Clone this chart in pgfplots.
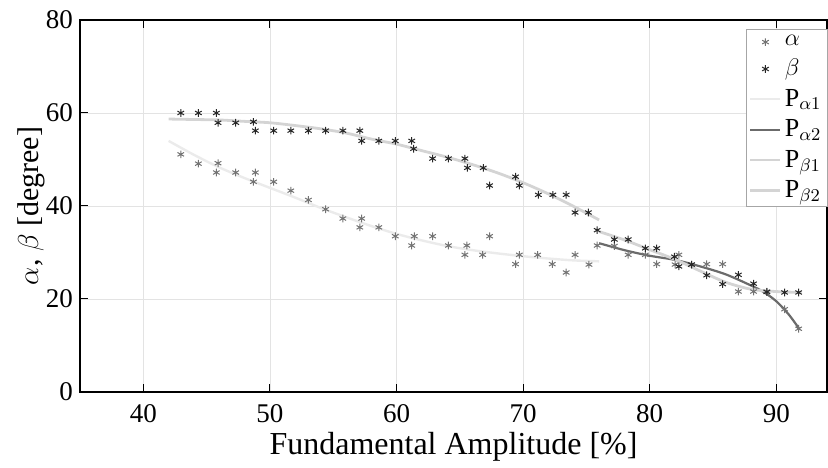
\documentclass[border=0pt]{standalone}
\usepackage{fontspec}
\setmainfont{Liberation Serif}
\usepackage{pgfplots}
\pgfplotsset{compat=1.18}
\definecolor{agray}{gray}{0.45}
\definecolor{bgray}{gray}{0.15}
\definecolor{pa1}{gray}{0.92}
\definecolor{pa2}{gray}{0.42}
\definecolor{pb1}{gray}{0.83}
\definecolor{pb2}{gray}{0.83}
\begin{document}
\begin{tikzpicture}
\begin{axis}[
  name=ax,
  scale only axis,
  width=373.5pt, height=186pt,
  xmin=35, xmax=94, ymin=0, ymax=80,
  xtick={40,50,...,90}, ytick={0,20,...,80},
  grid=major,
  major grid style={gray!22, line width=0.4pt},
  tick align=inside,
  major tick length=4pt,
  tick style={black, line width=0.5pt},
  axis line style={black, line width=0.6pt},
  tick label style={font=\fontsize{13.5}{15}\selectfont},
  /pgf/number format/assume math mode=true,
  xticklabel style={yshift=-2.5pt},
  xlabel={Fundamental Amplitude [\%]},
  ylabel={$\alpha$, $\beta$ [degree]},
  every axis x label/.style={at={(axis description cs:0.5,-0.148)},anchor=center,font=\fontsize{16}{18}\selectfont},
  every axis y label/.style={at={(axis description cs:-0.0656,0.5)},rotate=90,anchor=center,font=\fontsize{15}{17}\selectfont},
  legend style={at={(axis description cs:1.0013,0.976)}, anchor=north east,
    draw=gray!70, line width=0.5pt, font=\fontsize{13}{14}\selectfont,
    row sep=2.2pt, inner sep=1.5pt, fill=white,
    nodes={inner sep=1.5pt}},
  legend cell align=left,
  legend image code/.code={\draw[mark repeat=2,mark phase=2,#1] plot coordinates {(0pt,0pt) (7.5pt,0pt) (15pt,0pt)};},
]
\addplot[only marks, mark=asterisk, mark size=1.9pt, color=agray, mark options={line width=0.5pt}] coordinates {
(42.96,51.1)(44.35,49.1)(45.77,47.2)(45.9,49.2)(47.3,47.2)(48.7,45.2)(48.85,47.2)
(50.3,45.2)(51.65,43.3)(53.04,41.3)(54.4,39.3)(55.76,37.3)(57.1,35.4)(57.25,37.3)
(58.6,35.4)(59.9,33.5)(61.2,31.5)(61.4,33.5)(62.85,33.5)(64.1,31.5)(65.4,29.5)
(65.55,31.5)(66.8,29.5)(67.35,33.5)(69.4,27.5)(69.7,29.5)(71.15,29.5)(72.3,27.5)
(73.4,25.7)(74.1,29.5)(75.2,27.4)(75.85,31.5)(77.2,31.4)(78.3,29.5)(79.65,29.5)
(80.55,27.5)(82.0,27.4)(82.3,29.5)(83.3,27.4)(84.5,27.5)(85.76,27.5)(87.0,21.6)
(88.2,21.6)(89.25,21.6)(90.65,17.8)(91.76,13.6)
};
\addlegendentry{$\alpha$}
\addplot[only marks, mark=asterisk, mark size=1.9pt, color=bgray, mark options={line width=0.5pt}] coordinates {
(42.96,60)(44.35,60)(45.77,60)(45.9,57.9)(47.3,57.9)(48.7,58.1)(48.85,56.2)
(50.3,56.2)(51.65,56.2)(53.04,56.2)(54.4,56.2)(55.76,56.2)(57.1,56.2)(57.25,54.0)
(58.6,54.0)(59.9,54.0)(61.2,54.0)(61.35,52.3)(62.85,50.2)(64.1,50.2)(65.4,50.2)
(65.6,48.2)(66.85,48.2)(67.35,44.4)(69.4,46.3)(69.7,44.4)(71.2,42.4)(72.35,42.4)
(73.4,42.4)(74.1,38.6)(75.15,38.6)(75.85,34.8)(77.2,32.8)(78.3,32.8)(79.65,30.9)
(80.55,30.9)(81.95,29.1)(82.3,27.0)(83.3,27.4)(84.5,25.1)(85.76,23.2)(87.0,25.2)
(88.2,23.3)(89.25,21.5)(90.65,21.4)(91.76,21.4)
};
\addlegendentry{$\beta$}
\addplot[smooth, color=pa1, line width=1.2pt] coordinates {
(42,54.0)(44,51.0)(46,48.3)(48,46.0)(50,43.9)(52,41.8)(54,39.6)(56,37.6)(58,35.7)
(60,34.0)(62,32.6)(64,31.4)(66,30.5)(68,29.8)(70,29.2)(72,28.7)(74,28.3)(76,28.1)
};
\addlegendentry{P$_{\alpha1}$}
\addplot[smooth, color=pa2, line width=1.1pt] coordinates {
(76,32.0)(78,30.5)(80,29.3)(82,28.4)(84,27.0)(86,25.3)(88,22.9)(89,21.5)(90,19.5)(91,16.6)(91.8,13.6)
};
\addlegendentry{P$_{\alpha2}$}
\addplot[smooth, color=pb1, line width=1.4pt] coordinates {
(42,58.7)(44,58.6)(46,58.5)(48,58.2)(50,57.9)(52,57.3)(54,56.6)(56,55.7)(58,54.4)
(60,53.3)(62,51.9)(64,50.5)(66,48.9)(68,47.1)(70,45.0)(72,42.6)(74,39.9)(76,37.0)
};
\addlegendentry{P$_{\beta1}$}
\addplot[smooth, color=pb2, line width=1.4pt] coordinates {
(76,34.5)(78,32.7)(80,30.6)(82,28.5)(84,26.0)(86,23.6)(88,22.1)(90,21.6)(92,21.4)
};
\addlegendentry{P$_{\beta2}$}
\end{axis}
\pgfresetboundingbox
\path (ax.south west) ++(-40pt,-38pt) coordinate (bl);
\path (ax.north east) ++(0.5pt,10pt) coordinate (tr);
\path[use as bounding box] (bl) rectangle (tr);
\end{tikzpicture}
\end{document}
